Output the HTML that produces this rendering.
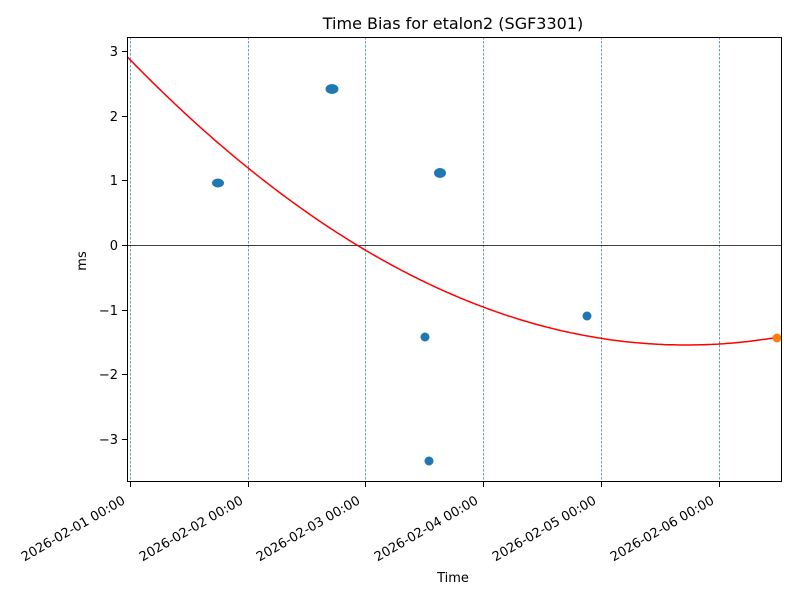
<!DOCTYPE html>
<html><head><style>body{margin:0;background:#fff}svg{display:block;font-family:"DejaVu Sans","Liberation Sans",sans-serif}</style></head><body>
<svg width="800" height="600" viewBox="0 0 800 600" xmlns="http://www.w3.org/2000/svg">
<rect width="800" height="600" fill="#fff"/>
<g stroke="#1f77b4" stroke-width="0.7" stroke-dasharray="2.5,1.5">
<line x1="130.5" y1="37" x2="130.5" y2="482"/><line x1="248.5" y1="37" x2="248.5" y2="482"/><line x1="365.5" y1="37" x2="365.5" y2="482"/><line x1="483.5" y1="37" x2="483.5" y2="482"/><line x1="601.5" y1="37" x2="601.5" y2="482"/><line x1="719.5" y1="37" x2="719.5" y2="482"/>
</g>
<line x1="127" y1="245.5" x2="782" y2="245.5" stroke="#000" stroke-width="0.8"/>
<path id="c" fill="none" stroke="red" stroke-width="1.5" d=""/>
<script>
(function(){var d="";for(var x=127;x<=777;x+=3){var y=345-0.000923*(x-686)*(x-686);d+=(x==127?"M":"L")+x+","+y.toFixed(1);}d+="L777,337.4";document.getElementById("c").setAttribute("d",d);})();
</script>
<g fill="#1f77b4">
<ellipse cx="218" cy="183" rx="6" ry="4.5"/>
<ellipse cx="332" cy="89" rx="6.5" ry="5"/>
<ellipse cx="440" cy="173" rx="6" ry="5"/>
<circle cx="425" cy="337" r="4.5"/>
<circle cx="429" cy="461" r="4.5"/>
<circle cx="587" cy="316" r="4.5"/>
</g>
<circle cx="777" cy="338" r="4.5" fill="#ff7f0e"/>
<rect x="127.5" y="37.5" width="654" height="444" fill="none" stroke="#000" stroke-width="1"/>
<g stroke="#000" stroke-width="1">
<line x1="122" y1="51.5" x2="127" y2="51.5"/><line x1="122" y1="116.5" x2="127" y2="116.5"/><line x1="122" y1="180.5" x2="127" y2="180.5"/><line x1="122" y1="245.5" x2="127" y2="245.5"/><line x1="122" y1="310.5" x2="127" y2="310.5"/><line x1="122" y1="374.5" x2="127" y2="374.5"/><line x1="122" y1="439.5" x2="127" y2="439.5"/>
<line x1="130.5" y1="482" x2="130.5" y2="487"/><line x1="248.5" y1="482" x2="248.5" y2="487"/><line x1="365.5" y1="482" x2="365.5" y2="487"/><line x1="483.5" y1="482" x2="483.5" y2="487"/><line x1="601.5" y1="482" x2="601.5" y2="487"/><line x1="719.5" y1="482" x2="719.5" y2="487"/>
</g>
<g font-size="13" text-anchor="end" fill="#000">
<text x="118" y="56">3</text><text x="118" y="121">2</text><text x="118" y="185">1</text><text x="118" y="250">0</text><text x="118" y="315">−1</text><text x="118" y="379">−2</text><text x="118" y="444">−3</text>
</g>
<g font-size="13" text-anchor="end" fill="#000">
<text transform="translate(126,503) rotate(-30)">2026-02-01 00:00</text>
<text transform="translate(244,503) rotate(-30)">2026-02-02 00:00</text>
<text transform="translate(361,503) rotate(-30)">2026-02-03 00:00</text>
<text transform="translate(479,503) rotate(-30)">2026-02-04 00:00</text>
<text transform="translate(597,503) rotate(-30)">2026-02-05 00:00</text>
<text transform="translate(715,503) rotate(-30)">2026-02-06 00:00</text>
</g>
<text x="453" y="582" font-size="13" text-anchor="middle">Time</text>
<text transform="translate(86,261) rotate(-90)" font-size="13" text-anchor="middle">ms</text>
<text x="453" y="29" font-size="16" text-anchor="middle">Time Bias for etalon2 (SGF3301)</text>
</svg>
</body></html>
